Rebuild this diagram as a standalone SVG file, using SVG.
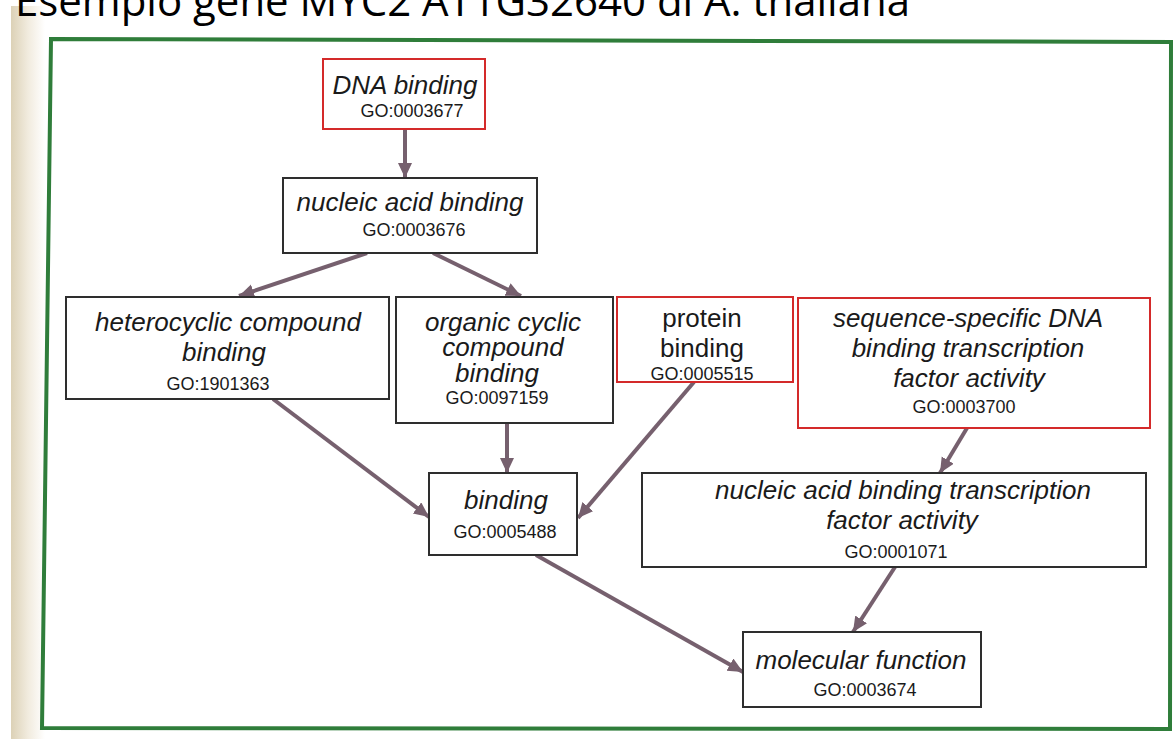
<svg xmlns="http://www.w3.org/2000/svg" width="1176" height="739" viewBox="0 0 1176 739">
<defs>
<linearGradient id="page" x1="0" y1="0" x2="1" y2="0">
<stop offset="0" stop-color="#dcd1b6"/>
<stop offset="0.5" stop-color="#f1ebde"/>
<stop offset="1" stop-color="#ffffff"/>
</linearGradient>
<marker id="ah" markerUnits="userSpaceOnUse" markerWidth="18" markerHeight="16" refX="15" refY="7" orient="auto">
<path d="M0,0 L15,7 L0,14 Z" fill="#76606e"/>
</marker>
<style>
.box{fill:#ffffff;stroke:#2e2e2e;stroke-width:2}
.red{fill:#ffffff;stroke:#d42a2a;stroke-width:2}
.lbl{font-family:"Liberation Sans",Arial,sans-serif;font-size:26px;font-style:italic;fill:#1a1a1a;text-anchor:middle}
.up{font-style:normal}
.go{font-family:"Liberation Sans",Arial,sans-serif;font-size:18px;fill:#1a1a1a;text-anchor:middle}
.edge{stroke:#76606e;stroke-width:4;fill:none;marker-end:url(#ah)}
.title{font-family:"Open Sans","Liberation Sans",sans-serif;font-size:42px;fill:#000}
</style>
</defs>
<rect x="0" y="0" width="1176" height="739" fill="#ffffff"/>
<rect x="11" y="6" width="34" height="733" fill="url(#page)"/>
<text class="title" x="15" y="16" textLength="895" lengthAdjust="spacingAndGlyphs">Esempio gene MYC2 AT1G32640 di A. thaliana</text>
<polygon points="51,39 1171,42 1170,729 42,728" fill="#ffffff" stroke="#2f7d3a" stroke-width="4"/>
<g id="connectors">
<line class="edge" x1="405" y1="129" x2="405" y2="178"/>
<line class="edge" x1="367" y1="253" x2="239" y2="296"/>
<line class="edge" x1="433" y1="253" x2="521" y2="296"/>
<line class="edge" x1="273" y1="399" x2="429" y2="517"/>
<line class="edge" x1="507" y1="423" x2="507" y2="473"/>
<line class="edge" x1="694" y1="382" x2="578" y2="518"/>
<line class="edge" x1="967" y1="428" x2="940" y2="473"/>
<line class="edge" x1="536" y1="555" x2="743" y2="672"/>
<line class="edge" x1="895" y1="567" x2="853" y2="632"/>
</g>
<g id="dna-binding">
<rect class="red" x="323" y="59" width="162" height="70"/>
<text class="lbl" x="405" y="94">DNA binding</text>
<text class="go" x="412" y="117">GO:0003677</text>
</g>
<g id="nucleic-acid-binding">
<rect class="box" x="283" y="178" width="254" height="75"/>
<text class="lbl" x="410" y="211">nucleic acid binding</text>
<text class="go" x="414" y="236">GO:0003676</text>
</g>
<g id="heterocyclic-compound-binding">
<rect class="box" x="66" y="297" width="323" height="102"/>
<text class="lbl" x="228" y="331">heterocyclic compound</text>
<text class="lbl" x="224" y="361">binding</text>
<text class="go" x="218" y="390">GO:1901363</text>
</g>
<g id="organic-cyclic-compound-binding">
<rect class="box" x="396" y="297" width="217" height="126"/>
<text class="lbl" x="503" y="331">organic cyclic</text>
<text class="lbl" x="503" y="356">compound</text>
<text class="lbl" x="497" y="382">binding</text>
<text class="go" x="497" y="404">GO:0097159</text>
</g>
<g id="protein-binding">
<rect class="red" x="617" y="297" width="176" height="85"/>
<text class="lbl up" x="702" y="327">protein</text>
<text class="lbl up" x="702" y="357">binding</text>
<text class="go" x="702" y="380">GO:0005515</text>
</g>
<g id="sequence-specific-dna-binding-tf-activity">
<rect class="red" x="798" y="298" width="352" height="130"/>
<text class="lbl" x="968" y="327">sequence-specific DNA</text>
<text class="lbl" x="968" y="357">binding transcription</text>
<text class="lbl" x="969" y="387">factor activity</text>
<text class="go" x="964" y="413">GO:0003700</text>
</g>
<g id="binding">
<rect class="box" x="429" y="473" width="148" height="82"/>
<text class="lbl" x="506" y="509">binding</text>
<text class="go" x="505" y="538">GO:0005488</text>
</g>
<g id="nucleic-acid-binding-tf-activity">
<rect class="box" x="642" y="473" width="504" height="94"/>
<text class="lbl" x="903" y="499">nucleic acid binding transcription</text>
<text class="lbl" x="902" y="529">factor activity</text>
<text class="go" x="896" y="558">GO:0001071</text>
</g>
<g id="molecular-function">
<rect class="box" x="743" y="632" width="238" height="75"/>
<text class="lbl" x="861" y="669">molecular function</text>
<text class="go" x="865" y="696">GO:0003674</text>
</g>
</svg>
